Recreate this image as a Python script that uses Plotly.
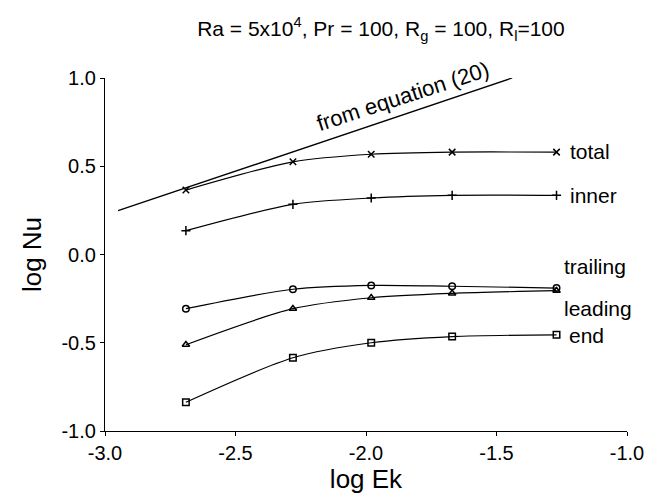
import plotly.graph_objects as go

log_ek = [-2.69, -2.28, -1.98, -1.67, -1.27]
total = [0.365, 0.525, 0.568, 0.58, 0.58]
inner = [0.135, 0.284, 0.32, 0.335, 0.335]
trailing = [-0.307, -0.197, -0.175, -0.18, -0.19]
leading = [-0.511, -0.307, -0.245, -0.22, -0.205]
end = [-0.837, -0.585, -0.50, -0.465, -0.455]
eq_x = [-2.95, -1.44]
eq_y = [0.248, 1.0]

series = [
    ("total", total, "x-thin-open"),
    ("inner", inner, "cross-thin-open"),
    ("trailing", trailing, "circle-open"),
    ("leading", leading, "triangle-up-open"),
    ("end", end, "square-open"),
]

FONT = "Liberation Sans, Arial, sans-serif"
fig = go.Figure()
fig.add_trace(go.Scatter(x=eq_x, y=eq_y, mode="lines",
                         line=dict(color="black", width=1.3), showlegend=False))
for name, ys, sym in series:
    fig.add_trace(go.Scatter(
        x=log_ek, y=ys, mode="lines+markers", name=name, showlegend=False,
        line=dict(color="black", width=1.2, shape="spline", smoothing=0.8),
        marker=dict(symbol=sym, size=6.5, color="black", line=dict(color="black", width=1.5)),
    ))

labels = [("total", -1.226, 0.585), ("inner", -1.226, 0.335),
          ("trailing", -1.249, -0.068), ("leading", -1.249, -0.307),
          ("end", -1.23, -0.46)]
for txt, x, y in labels:
    fig.add_annotation(x=x, y=y, text=txt, showarrow=False, xanchor="left",
                       yanchor="middle", font=dict(size=21, color="black", family=FONT))
fig.add_annotation(x=-1.86, y=0.895, text="from equation (20)", showarrow=False,
                   textangle=-18, font=dict(size=22, color="black", family=FONT))

fig.update_layout(
    width=652, height=494,
    margin=dict(l=97, r=33, t=70, b=71),
    paper_bgcolor="white", plot_bgcolor="white",
    font=dict(family=FONT, color="black", size=20),
    title=dict(text="Ra = 5x10<sup>4</sup>, Pr = 100, R<sub>g</sub> = 100, R<sub>l</sub>=100",
               x=0.572, xanchor="center", y=0.958, yanchor="middle",
               font=dict(size=21, family=FONT)),
)
fig.update_xaxes(range=[-3.0, -1.0], tickvals=[-3.0, -2.5, -2.0, -1.5, -1.0],
                 ticktext=["-3.0", "-2.5", "-2.0", "-1.5", "-1.0"],
                 showline=True, linecolor="black", linewidth=1.3, ticks="outside",
                 ticklen=4, tickcolor="black", showgrid=False, zeroline=False,
                 automargin=False,
                 title=dict(text="log Ek", font=dict(size=26), standoff=6),
                 tickfont=dict(size=20))
fig.update_yaxes(range=[-1.0, 1.0], tickvals=[-1.0, -0.5, 0.0, 0.5, 1.0],
                 ticktext=["-1.0", "-0.5", "0.0", "0.5", "1.0"],
                 showline=True, linecolor="black", linewidth=1.3, ticks="outside",
                 ticklen=4, tickcolor="black", showgrid=False, zeroline=False,
                 automargin=False,
                 title=dict(text="log Nu", font=dict(size=26), standoff=12),
                 tickfont=dict(size=20))
fig.write_html("out.html")
